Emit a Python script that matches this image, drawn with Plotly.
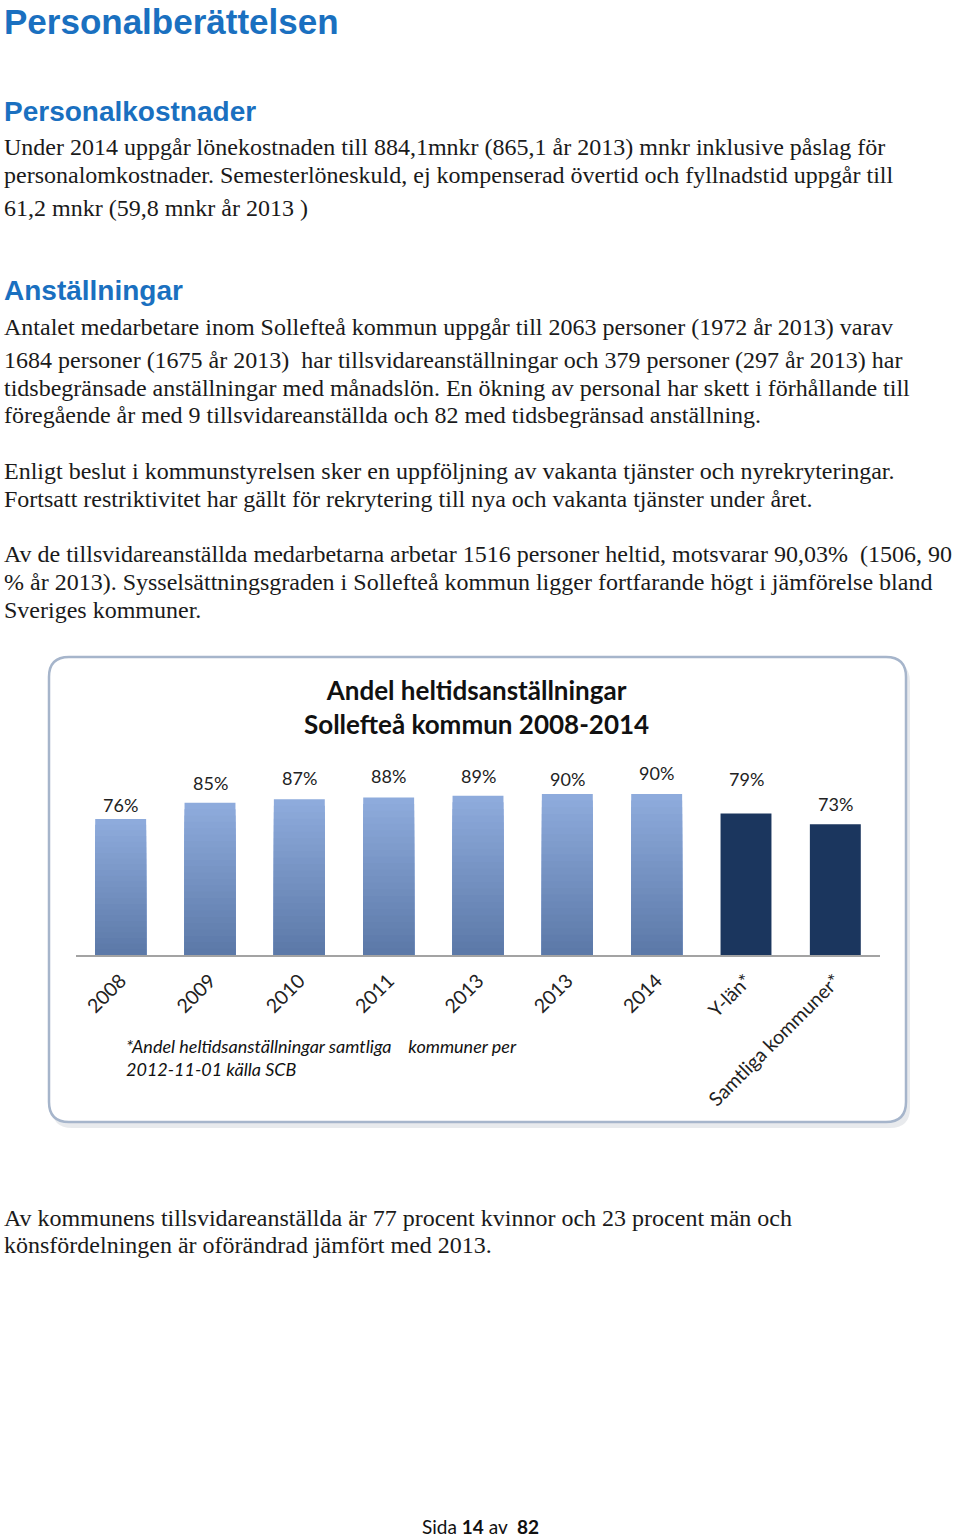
import plotly.graph_objects as go

# ---------------- data ----------------
categories = ["2008", "2009", "2010", "2011", "2013", "2013", "2014", "Y-län*", "Samtliga kommuner*"]
values = [76, 85, 87, 88, 89, 90, 90, 79, 73]
is_comparison = [False, False, False, False, False, False, False, True, True]
value_labels = ["76%", "85%", "87%", "88%", "89%", "90%", "90%", "79%", "73%"]

# ---------------- styles / page geometry ----------------
W, H = 960, 1538
label_shift = [14, 20, 21, 21, 20, 15, 21, 35, 20]   # px above bar top (as placed in the original)
LIGHT_TOP = (0x8E, 0xAB, 0xDC)
LIGHT_BOT = (0x5C, 0x79, 0xA8)
DARK = "#1b365e"
BODY_FONT = "Liberation Serif"
HEAD_FONT = "Liberation Sans"
CHART_FONT = "Lato"
BLUE = "#1a70c0"
TEXT = "#1a1a1a"


def px(x):
    return x / W


def py(y):
    return 1 - y / H


fig = go.Figure()

positions = list(range(len(categories)))
light_x = [p for p, c in zip(positions, is_comparison) if not c]
light_v = [v for v, c in zip(values, is_comparison) if not c]
dark_x = [p for p, c in zip(positions, is_comparison) if c]
dark_v = [v for v, c in zip(values, is_comparison) if c]

# gradient bars (light blue): stacked overlays from full height down to the bottom slice
N = 24
for k in range(N, 0, -1):
    t = (k - 1) / (N - 1)
    col = tuple(round(LIGHT_BOT[i] + (LIGHT_TOP[i] - LIGHT_BOT[i]) * t) for i in range(3))
    fig.add_trace(go.Bar(
        x=light_x, y=[v * k / N for v in light_v], width=0.57,
        marker=dict(color="rgb(%d,%d,%d)" % col, line=dict(width=0)),
        hoverinfo="skip", showlegend=False,
    ))

fig.add_trace(go.Bar(
    x=dark_x, y=dark_v, width=0.57,
    marker=dict(color=DARK, line=dict(width=0)),
    hoverinfo="skip", showlegend=False,
))

annotations = []
for p, v, lab, s in zip(positions, values, value_labels, label_shift):
    annotations.append(dict(
        x=p, y=v, xref="x", yref="y", text=lab, showarrow=False,
        yanchor="middle", yshift=s, font=dict(family=CHART_FONT, size=18, color="#222222"),
    ))


def text_line(x, y, txt, size=24, family=BODY_FONT, color=TEXT, anchor="left", bold=False):
    if bold:
        txt = "<b>" + txt + "</b>"
    annotations.append(dict(
        x=px(x), y=py(y), xref="paper", yref="paper", text=txt, showarrow=False,
        xanchor=anchor, yanchor="middle", align="left",
        font=dict(family=family, size=size, color=color),
    ))


# headings
text_line(2, 21, "Personalberättelsen", size=35, family=HEAD_FONT, color=BLUE, bold=True)
text_line(2, 111, "Personalkostnader", size=28, family=HEAD_FONT, color=BLUE, bold=True)
text_line(2, 290, "Anställningar", size=28, family=HEAD_FONT, color=BLUE, bold=True)

body = [
    (147, "Under 2014 uppgår lönekostnaden till 884,1mnkr (865,1 år 2013) mnkr inklusive påslag för"),
    (175, "personalomkostnader. Semesterlöneskuld, ej kompenserad övertid och fyllnadstid uppgår till"),
    (208, "61,2 mnkr (59,8 mnkr år 2013 )"),
    (327, "Antalet medarbetare inom Sollefteå kommun uppgår till 2063 personer (1972 år 2013) varav"),
    (360, "1684 personer (1675 år 2013)\u00a0 har tillsvidareanställningar och 379 personer (297 år 2013) har"),
    (388, "tidsbegränsade anställningar med månadslön. En ökning av personal har skett i förhållande till"),
    (415, "föregående år med 9 tillsvidareanställda och 82 med tidsbegränsad anställning."),
    (471, "Enligt beslut i kommunstyrelsen sker en uppföljning av vakanta tjänster och nyrekryteringar."),
    (499, "Fortsatt restriktivitet har gällt för rekrytering till nya och vakanta tjänster under året."),
    (554, "Av de tillsvidareanställda medarbetarna arbetar 1516 personer heltid, motsvarar 90,03%\u00a0 (1506, 90"),
    (582, "% år 2013). Sysselsättningsgraden i Sollefteå kommun ligger fortfarande högt i jämförelse bland"),
    (610, "Sveriges kommuner."),
    (1218, "Av kommunens tillsvidareanställda är 77 procent kvinnor och 23 procent män och"),
    (1245, "könsfördelningen är oförändrad jämfört med 2013."),
]
for y, t in body:
    text_line(2, y, t)

# chart title
annotations.append(dict(
    x=px(476), y=py(707), xref="paper", yref="paper", showarrow=False,
    text="<b>Andel heltidsanställningar</b><br><b>Sollefteå kommun 2008-2014</b>",
    xanchor="center", yanchor="middle", align="center",
    font=dict(family=CHART_FONT, size=26, color="#111111"),
))

# footnote
annotations.append(dict(
    x=px(124), y=py(1033), xref="paper", yref="paper", showarrow=False,
    text="<i>*Andel heltidsanställningar samtliga\u00a0\u00a0\u00a0 kommuner per</i><br><i>2012-11-01 källa SCB</i>",
    xanchor="left", yanchor="top", align="left",
    font=dict(family=CHART_FONT, size=18, color="#111111"),
))

# page footer
annotations.append(dict(
    x=px(480), y=py(1526), xref="paper", yref="paper", showarrow=False,
    text="Sida <b>14</b> av\u00a0 <b>82</b>",
    xanchor="center", yanchor="middle",
    font=dict(family=CHART_FONT, size=19, color="#111111"),
))

# chart frame (rounded rectangle + soft shadow)
def rounded(x0, y0, x1, y1, r):
    X0, X1 = px(x0), px(x1)
    Y0, Y1 = py(y0), py(y1)   # Y0 top (larger), Y1 bottom
    rx, ry = r / W, r / H
    return (f"M {X0+rx},{Y0} L {X1-rx},{Y0} Q {X1},{Y0} {X1},{Y0-ry} "
            f"L {X1},{Y1+ry} Q {X1},{Y1} {X1-rx},{Y1} L {X0+rx},{Y1} "
            f"Q {X0},{Y1} {X0},{Y1+ry} L {X0},{Y0-ry} Q {X0},{Y0} {X0+rx},{Y0} Z")


shapes = [
    dict(type="path", xref="paper", yref="paper", path=rounded(52, 662, 910, 1128, 20),
         fillcolor="rgba(150,160,175,0.22)", line=dict(width=0), layer="below"),
    dict(type="path", xref="paper", yref="paper", path=rounded(49, 657, 906, 1122, 20),
         fillcolor="white", line=dict(color="#a6b5cb", width=2.5), layer="below"),
]

x_dom = [px(76), px(880)]
y_dom = [py(955), py(955 - 179)]

fig.update_layout(
    width=W, height=H, margin=dict(l=0, r=0, t=0, b=0),
    paper_bgcolor="white", plot_bgcolor="rgba(0,0,0,0)",
    barmode="overlay", showlegend=False,
    annotations=annotations, shapes=shapes,
    xaxis=dict(
        domain=x_dom, range=[-0.5, len(categories) - 0.5],
        tickvals=positions, ticktext=categories, tickangle=-45,
        showline=True, linecolor="#a3a3a3", linewidth=1.5,
        showgrid=False, zeroline=False,
        ticks="outside", ticklen=5, tickcolor="rgba(0,0,0,0)",
        tickfont=dict(family=CHART_FONT, size=19.5, color="#222222"),
    ),
    yaxis=dict(
        domain=y_dom, range=[0, 100], visible=False, showgrid=False, zeroline=False,
    ),
)

fig.write_html("out.html", config={"displayModeBar": False},
               post_script="document.body.style.margin='0';")
